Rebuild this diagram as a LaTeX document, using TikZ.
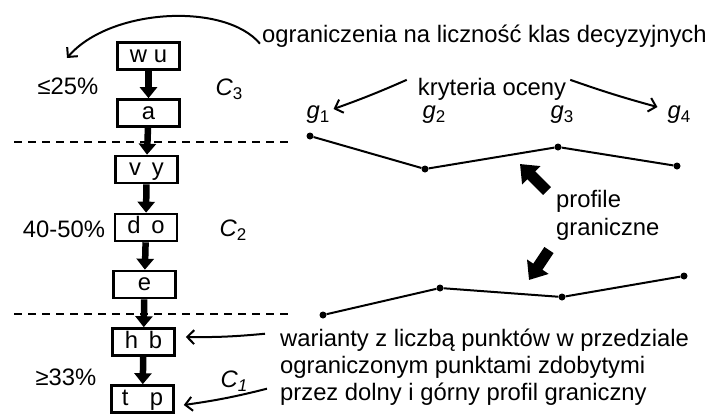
\documentclass[tikz,border=0pt]{standalone}
\usepackage{fontspec}
\setmainfont{Liberation Sans}
\usetikzlibrary{arrows.meta}
\newcommand\mysub[1]{\raisebox{-4pt}{\fontsize{17}{17}\selectfont #1}}
\begin{document}
\begin{tikzpicture}[x=1pt,y=-1pt,
  every node/.style={font=\fontsize{23.8}{28}\selectfont, inner sep=0pt},
  box/.style={draw, line width=2.6pt, minimum width=62pt, minimum height=27pt, text height=17pt, text depth=5pt},
  colarrow/.style={line width=6.5pt, -{Triangle[width=17pt,length=11pt]}},
  thinarrow/.style={line width=2pt, -{Straight Barb[length=7pt,width=14pt]}},
  blockarrow/.style={line width=11pt, -{Triangle[width=25pt,length=16pt]}},
  dashline/.style={line width=2pt, dash pattern=on 8pt off 6pt},
  dot/.style={circle, fill, minimum size=7pt, inner sep=0pt},
  profline/.style={line width=2pt}
]
\useasboundingbox (0,0) rectangle (715,416);

% column of boxes
\node[box] (wu) at (148.5,56) {w u};
\node[box] (a)  at (148.5,113) {a};
\node[box] (vy) at (146.5,169.5) {v\hspace{0.45em}y};
\node[box] (do) at (146,227.5) {d\hspace{0.45em}o};
\node[box] (e)  at (144.5,284.5) {e};
\node[box] (hb) at (143.5,342) {h\hspace{0.45em}b};
\node[box] (tp) at (142.5,399) {t\hspace{0.9em}p};

\draw[colarrow] (wu) -- (a);
\draw[colarrow] (a) -- (vy);
\draw[colarrow] (vy) -- (do);
\draw[colarrow] (do) -- (e);
\draw[colarrow] (e) -- (hb);
\draw[colarrow] (hb) -- (tp);

% dashed class borders
\coordinate (d1a) at (14,142);
\coordinate (d1b) at (292,142);
\coordinate (d2a) at (14,314);
\coordinate (d2b) at (292,314);
\draw[dashline] (d1a) -- (d1b);
\draw[dashline] (d2a) -- (d2b);

% percentages and classes
\node[anchor=base] (p3) at (68,94) {≤25\%};
\node[anchor=base] (p2) at (64,237) {40-50\%};
\node[anchor=base] (p1) at (66,385) {≥33\%};
\node[anchor=base] (c3) at (229,95) {\textit{C}\mysub{3}};
\node[anchor=base] (c2) at (233,236) {\textit{C}\mysub{2}};
\node[anchor=base] (c1) at (234,387) {\textit{C}\mysub{\textit{1}}};

% top text and arrow
\node[anchor=base west] (top) at (262,42) {ograniczenia na liczność klas decyzyjnych};
\coordinate (topend) at (67,58);
\draw[thinarrow] ([xshift=-2pt,yshift=-8pt]top.west) .. controls (225,2) and (110,8) .. (topend);

% criteria
\node[anchor=base] (kry) at (492,95) {kryteria oceny};
\node[anchor=base] (g1) at (318,118) {\textit{g}\mysub{1}};
\node[anchor=base] (g2) at (434,118) {\textit{g}\mysub{2}};
\node[anchor=base] (g3) at (562,118) {\textit{g}\mysub{3}};
\node[anchor=base] (g4) at (679,118) {\textit{g}\mysub{4}};
\draw[thinarrow] ([xshift=-11pt,yshift=9pt]kry.west) to[bend left=2] ([xshift=4pt,yshift=-4pt]g1.north east);
\draw[thinarrow] ([xshift=4pt,yshift=9pt]kry.east) to[bend right=2] ([xshift=-10pt,yshift=-2pt]g4.north west);

% profiles
\node[dot] (u1) at (310,136) {};
\node[dot] (u2) at (425,169) {};
\node[dot] (u3) at (558,147) {};
\node[dot] (u4) at (677,166) {};
\draw[profline] (u1) -- (u2) -- (u3) -- (u4);
\node[dot] (l1) at (323,315) {};
\node[dot] (l2) at (440,288) {};
\node[dot] (l3) at (562,297) {};
\node[dot] (l4) at (684,276) {};
\draw[profline] (l1) -- (l2) -- (l3) -- (l4);

\node[anchor=base west] (pr1) at (556,207) {profile};
\node[anchor=base west] (pr2) at (556,235) {graniczne};
\coordinate (ba1) at (547,191);
\coordinate (ba1t) at (520,164);
\coordinate (ba2) at (549,250);
\coordinate (ba2t) at (529,280);
\draw[blockarrow] (ba1) -- (ba1t);
\draw[blockarrow] (ba2) -- (ba2t);

% bottom text
\node[anchor=base west] (w1) at (280,346) {warianty z liczbą punktów w przedziale};
\node[anchor=base west] (w2) at (280,373) {ograniczonym punktami zdobytymi};
\node[anchor=base west] (w3) at (280,400) {przez dolny i górny profil graniczny};
\draw[thinarrow] ([xshift=-15pt,yshift=6pt]w1.west) to[bend left=3] ([xshift=10pt,yshift=5pt]hb.east);
\draw[thinarrow] ([xshift=-13pt,yshift=5pt]w3.west) to[bend left=3] ([xshift=9pt,yshift=-6pt]tp.east);
\end{tikzpicture}
\end{document}
